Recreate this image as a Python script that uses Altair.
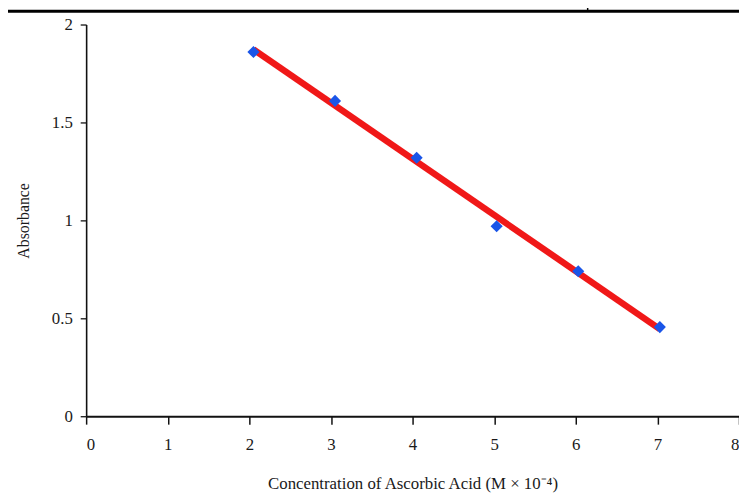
import altair as alt
import pandas as pd

conc = [2.05, 3.05, 4.05, 5.03, 6.03, 7.03]
absorbance = [1.86, 1.61, 1.32, 0.97, 0.74, 0.455]
x_ticks = [0, 1, 2, 3, 4, 5, 6, 7, 8]
y_ticks = [0, 0.5, 1, 1.5, 2]

df = pd.DataFrame({"conc": conc, "abs": absorbance})
FONT = "Liberation Serif"

x_enc = alt.X("conc:Q", scale=alt.Scale(domain=[0, 8], nice=False),
              axis=alt.Axis(values=x_ticks, format="d",
                            title="Concentration of Ascorbic Acid (M × 10⁻⁴)",
                            grid=False, domainColor="#111", domainWidth=2.2,
                            tickColor="#111", tickSize=8, tickWidth=1.5,
                            labelFontSize=17, labelColor="#1a1a1a",
                            labelPadding=13, titleFontSize=17,
                            titleFontWeight="normal", titleColor="#1a1a1a", titlePadding=23))
y_enc = alt.Y("abs:Q", scale=alt.Scale(domain=[0, 2], nice=False),
              axis=alt.Axis(values=y_ticks, format="~g", title="Absorbance", grid=False,
                            domainColor="#111", domainWidth=1.6, tickColor="#111",
                            tickSize=6, tickWidth=1.3, labelFontSize=17,
                            labelColor="#1a1a1a", labelPadding=8,
                            titleFontSize=16, titleFontWeight="normal", titleColor="#1a1a1a",
                            titlePadding=20))

base = alt.Chart(df)

line = base.transform_regression("conc", "abs").mark_line(
    color="#f01818", strokeWidth=6.5).encode(x=x_enc, y=y_enc)

pts = base.mark_point(shape="diamond", filled=True, color="#1a55e8", size=150,
                      opacity=1).encode(x="conc:Q", y="abs:Q")

border_top = alt.Chart(pd.DataFrame({"a": [0]})).mark_rule(
    color="#000", strokeWidth=3).encode(
    x=alt.value(-85), x2=alt.value(700), y=alt.value(-13.5))
border_v = alt.Chart(pd.DataFrame({"a": [0]})).mark_rule(
    color="#000", strokeWidth=1.5).encode(
    x=alt.value(507), y=alt.value(-22), y2=alt.value(-13))

chart = alt.layer(line, pts, border_top, border_v).properties(
    width=660, height=396,
    autosize=alt.AutoSizeParams(type="none"),
    padding={"left": 79, "top": 14, "right": 0, "bottom": 84},
    background="white",
).configure_view(stroke=None).configure_axis(
    labelFont=FONT, titleFont=FONT
)

chart.save("out.html", embed_options={"renderer": "svg", "actions": False})
